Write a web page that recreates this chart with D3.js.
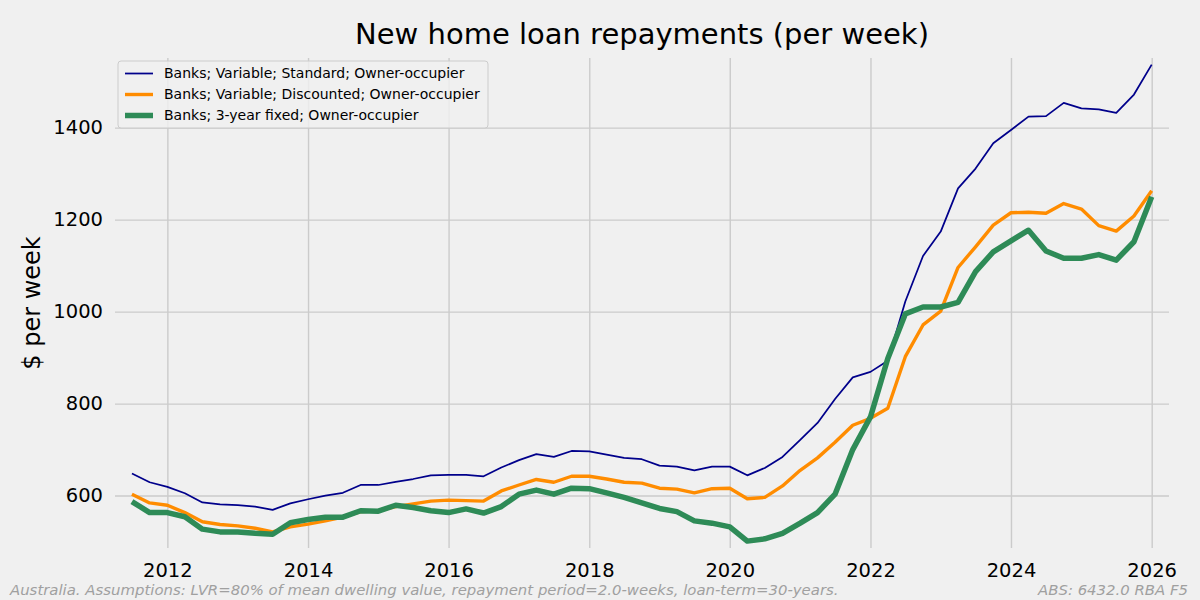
<!DOCTYPE html>
<html>
<head>
<meta charset="utf-8">
<script src="https://cdn.jsdelivr.net/npm/d3@7"></script>
<style>
  body { margin: 0; background: #f0f0f0; }
  svg { display: block; font-family: "DejaVu Sans", sans-serif; }
</style>
</head>
<body>
<svg id="chart" width="1200" height="600"></svg>
<script>
// quarterly observations, first day of the quarter
const quarters = [
  "2011-07-01","2011-10-01","2012-01-01","2012-04-01","2012-07-01","2012-10-01",
  "2013-01-01","2013-04-01","2013-07-01","2013-10-01","2014-01-01","2014-04-01",
  "2014-07-01","2014-10-01","2015-01-01","2015-04-01","2015-07-01","2015-10-01",
  "2016-01-01","2016-04-01","2016-07-01","2016-10-01","2017-01-01","2017-04-01",
  "2017-07-01","2017-10-01","2018-01-01","2018-04-01","2018-07-01","2018-10-01",
  "2019-01-01","2019-04-01","2019-07-01","2019-10-01","2020-01-01","2020-04-01",
  "2020-07-01","2020-10-01","2021-01-01","2021-04-01","2021-07-01","2021-10-01",
  "2022-01-01","2022-04-01","2022-07-01","2022-10-01","2023-01-01","2023-04-01",
  "2023-07-01","2023-10-01","2024-01-01","2024-04-01","2024-07-01","2024-10-01",
  "2025-01-01","2025-04-01","2025-07-01","2025-10-01","2026-01-01"
];

const standardVar = [
  648, 629, 619, 605, 585, 581, 579, 576, 569, 583, 592, 600,
  606, 623, 623, 630, 636, 644, 645, 645, 642, 661, 677, 690,
  684, 697, 696, 689, 682, 679, 665, 663, 655, 663, 663, 644,
  660, 684, 721, 758, 810, 857, 869, 893, 1022, 1121, 1174, 1268,
  1311, 1366, 1395, 1424, 1425, 1454, 1442, 1440, 1432, 1472, 1537
];

const discountedVar = [
  603, 584, 579, 563, 543, 537, 534, 529, 521, 532, 538, 545,
  553, 565, 567, 576, 582, 588, 590, 589, 588, 610, 623, 635,
  629, 642, 642, 636, 629, 627, 616, 614, 606, 615, 616, 593,
  596, 621, 655, 682, 716, 753, 768, 790, 902, 971, 1001, 1096,
  1141, 1188, 1215, 1216, 1214, 1235, 1223, 1187, 1175, 1208, 1263
];

const fixed3yr = [
  587, 563, 563, 554, 527, 521, 521, 518, 516, 541, 548, 553,
  553, 567, 566, 579, 574, 567, 563, 571, 562, 576, 603, 612,
  603, 616, 615, 606, 596, 584, 572, 565, 545, 540, 532, 501,
  506, 518, 540, 563, 603, 700, 771, 898, 995, 1010, 1010, 1020,
  1087, 1130, 1154, 1177, 1132, 1116, 1116, 1124, 1112, 1152, 1250
];

const seriesNames = [
  "Banks; Variable; Standard; Owner-occupier",
  "Banks; Variable; Discounted; Owner-occupier",
  "Banks; 3-year fixed; Owner-occupier"
];
const yTicks = [600, 800, 1000, 1200, 1400];
const xTickYears = [2012, 2014, 2016, 2018, 2020, 2022, 2024, 2026];

const svg = d3.select("#chart"),
      width = +svg.attr("width"),
      height = +svg.attr("height");

const margin = {top: 58, right: 31, bottom: 52, left: 115};
const parse = d3.timeParse("%Y-%m-%d");
const dates = quarters.map(parse);

const x = d3.scaleTime()
    .domain([new Date(2011, 3, 4), new Date(2026, 3, 1)])
    .range([margin.left, width - margin.right]);
const y = d3.scaleLinear()
    .domain([486, 1551.5])
    .range([height - margin.bottom, margin.top]);

svg.append("rect")
    .attr("width", width).attr("height", height)
    .attr("fill", "#f0f0f0");

// grid
const xAxis = d3.axisBottom(x)
    .tickValues(xTickYears.map(yr => new Date(yr, 0, 1)))
    .tickSize(-(height - margin.top - margin.bottom))
    .tickPadding(10)
    .tickFormat(d3.timeFormat("%Y"));
const gx = svg.append("g")
    .attr("transform", `translate(0,${height - margin.bottom})`)
    .call(xAxis);

const yAxis = d3.axisLeft(y)
    .tickValues(yTicks)
    .tickFormat(d3.format("d"))
    .tickSize(-(width - margin.left - margin.right))
    .tickPadding(12);
const gy = svg.append("g")
    .attr("transform", `translate(${margin.left},0)`)
    .call(yAxis);

[gx, gy].forEach(g => {
    g.select(".domain").remove();
    g.selectAll(".tick line").attr("stroke", "#cbcbcb").attr("stroke-width", 1.4);
    g.selectAll(".tick text")
        .attr("fill", "#000")
        .style("font-size", "19.5px")
        .style("font-family", "DejaVu Sans");
});
gx.selectAll(".tick text").attr("dy", "0.95em");

const series = [
  {name: seriesNames[0], values: standardVar, color: "#00008b", width: 1.75},
  {name: seriesNames[1], values: discountedVar, color: "#ff8c00", width: 3.4},
  {name: seriesNames[2], values: fixed3yr, color: "#2e8b57", width: 5.5}
];

const line = d3.line()
    .x(d => x(d[0]))
    .y(d => y(d[1]));

series.forEach(s => {
    svg.append("path")
        .datum(dates.map((dt, i) => [dt, s.values[i]]))
        .attr("d", line)
        .attr("fill", "none")
        .attr("stroke", s.color)
        .attr("stroke-width", s.width)
        .attr("stroke-linejoin", "round");
});

// title and axis label
svg.append("text")
    .attr("x", (margin.left + width - margin.right) / 2)
    .attr("y", 44)
    .attr("text-anchor", "middle")
    .style("font-size", "29px")
    .text("New home loan repayments (per week)");

svg.append("text")
    .attr("transform", `translate(40,${(margin.top + height - margin.bottom) / 2}) rotate(-90)`)
    .attr("text-anchor", "middle")
    .style("font-size", "24px")
    .text("$ per week");

// legend
const legend = svg.append("g").attr("transform", "translate(118,61)");
legend.append("rect")
    .attr("width", 370).attr("height", 67)
    .attr("rx", 3)
    .attr("fill", "#f0f0f0").attr("fill-opacity", 0.8)
    .attr("stroke", "#cccccc").attr("stroke-width", 1);
series.forEach((s, i) => {
    const row = legend.append("g").attr("transform", `translate(0,${12.5 + i * 21})`);
    row.append("line")
        .attr("x1", 7).attr("x2", 35)
        .attr("stroke", s.color).attr("stroke-width", s.width);
    row.append("text")
        .attr("x", 46).attr("dy", "0.35em")
        .style("font-size", "14px")
        .text(s.name);
});

// footnotes
svg.append("text")
    .attr("x", 10).attr("y", 595)
    .attr("fill", "#a0a0a0")
    .style("font-size", "14.9px").style("font-style", "italic")
    .text("Australia. Assumptions: LVR=80% of mean dwelling value, repayment period=2.0-weeks, loan-term=30-years.");
svg.append("text")
    .attr("x", 1188).attr("y", 595)
    .attr("text-anchor", "end")
    .attr("fill", "#a0a0a0")
    .style("font-size", "14.9px").style("font-style", "italic")
    .text("ABS: 6432.0 RBA F5");
</script>
</body>
</html>
